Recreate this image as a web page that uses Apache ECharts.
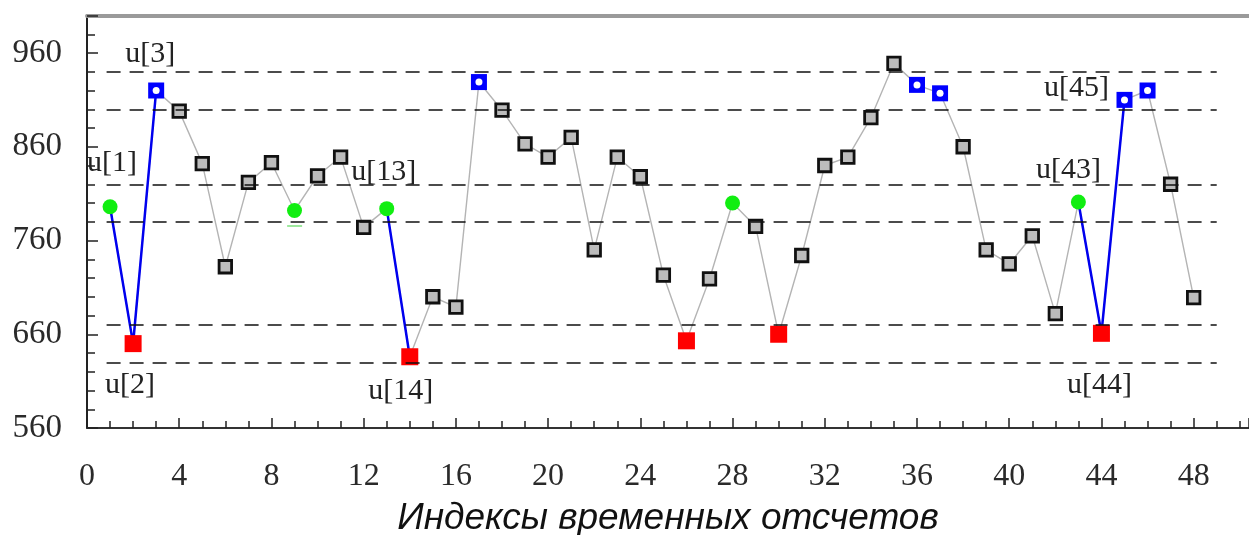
<!DOCTYPE html>
<html><head><meta charset="utf-8">
<script src="https://cdn.jsdelivr.net/npm/echarts@6/dist/echarts.min.js"></script>
<style>html,body{margin:0;padding:0;background:#fff}#c{width:1249px;height:535px}</style>
</head><body><div id="c"></div>
<script>
// ---- data ----
const indices = [1,2,3,4,5,6,7,8,9,10,11,12,13,14,15,16,17,18,19,20,21,22,23,24,25,26,27,28,29,30,31,32,33,34,35,36,37,38,39,40,41,42,43,44,45,46,47,48];
const values  = [796,650,920,898,842,732,822,843,792,829,849,774,794,636,700,689,929,899,863,849,870,750,849,828,723,653,719,800,775,660,744,840,849,891,949,926,917,860,750,735,765,682,801,661,910,920,820,699];
const minIdx = [2,14,26,30,44];
const maxIdx = [3,17,36,37,45,46];
const greenIdx = [1,9,13,28,43];
const blueSegments = [[1,3],[13,14],[43,45]];
const levels = [940,900,820,780,670,630];
const levelFrom = 0.85, levelTo = 49;
const greenDash = [[8.68, 775.5], [9.33, 775.5]];
const annotIdx  = [1,2,3,13,14,43,44,45];
const annotText = ['u[1]','u[2]','u[3]','u[13]','u[14]','u[43]','u[44]','u[45]'];
const xTitle = 'Индексы временных отсчетов';
// label placement (style only)
const annotOffset = [[2,-44],[-3,41],[-6,-36],[-3,-37],[-9,34],[-10,-32],[-2,52],[-48,-12]];

const val = i => values[indices.indexOf(i)];
const pts = list => list.map(i => [i, val(i)]);
const special = new Set([...minIdx, ...maxIdx, ...greenIdx]);
const greyIdx = indices.filter(i => !special.has(i));

const blueData = [];
blueSegments.forEach(([a,b], k) => {
  for (let i = a; i <= b; i++) blueData.push([i, val(i)]);
  if (k < blueSegments.length - 1) blueData.push([b + 0.5, null]);
});

const chart = echarts.init(document.getElementById('c'), null, {renderer:'canvas'});
const serif = 'Liberation Serif';
chart.setOption({
  animation: false,
  grid: {left: 87, right: 0, top: 15.5, bottom: 107, containLabel: false, outerBoundsMode: 'none'},
  xAxis: [{
    type: 'value', min: 0, max: 50.4, interval: 4,
    name: xTitle, nameLocation: 'middle', nameGap: 72,
    nameTextStyle: {fontFamily: 'Liberation Sans', fontStyle: 'italic', fontSize: 37, color: '#111'},
    axisLine: {show: true, onZero: false, lineStyle: {color: '#333', width: 2}},
    axisTick: {show: true, inside: true, length: 10, lineStyle: {color: '#222', width: 1.5}},
    minorTick: {show: true, splitNumber: 4, length: 7, lineStyle: {color: '#222', width: 1.5}},
    axisLabel: {fontFamily: serif, fontSize: 32, color: '#2a2a2a', margin: 33, showMaxLabel: false},
    splitLine: {show: false}
  }, {
    type: 'value', min: 0, max: 50.4, position: 'top',
    axisLine: {show: true, onZero: false, lineStyle: {color: '#9a9a9a', width: 4}},
    axisTick: {show: false}, axisLabel: {show: false}, splitLine: {show: false}
  }],
  yAxis: {
    type: 'value', min: 560, max: 1000, interval: 100,
    axisLine: {show: true, onZero: false, lineStyle: {color: '#222', width: 2}},
    axisTick: {show: true, inside: true, length: 11, lineStyle: {color: '#222', width: 1.5}},
    minorTick: {show: true, splitNumber: 5, length: 8, lineStyle: {color: '#222', width: 1.5}},
    axisLabel: {fontFamily: serif, fontSize: 33, color: '#2a2a2a', margin: 25, showMaxLabel: false},
    splitLine: {show: false}
  },
  series: [
    {
      type: 'line', data: indices.map(i => [i, val(i)]), showSymbol: false, symbol: 'none',
      lineStyle: {color: '#b4b4b4', width: 1.4}, z: 2, silent: true,
      markLine: {
        silent: true, symbol: ['none','none'], label: {show: false},
        lineStyle: {color: '#111', width: 1.6, type: [14, 9]},
        data: levels.map(v => [{coord: [levelFrom, v]}, {coord: [levelTo, v]}])
      }
    },
    {
      type: 'line', data: blueData, connectNulls: false, showSymbol: false, symbol: 'none',
      lineStyle: {color: '#0000ee', width: 2.5}, z: 3, silent: true
    },
    {
      type: 'scatter', data: pts(greyIdx), symbol: 'rect', symbolSize: 12.5, z: 4,
      itemStyle: {color: '#bcbcbc', borderColor: '#111', borderWidth: 2.8, opacity: 1}
    },
    {
      type: 'scatter', data: pts(minIdx), symbol: 'rect', symbolSize: 17, z: 4,
      itemStyle: {color: '#ff0000', opacity: 1}
    },
    {
      type: 'scatter', data: pts(maxIdx), symbol: 'rect', symbolSize: 16, z: 4,
      itemStyle: {color: '#0000ff', opacity: 1}
    },
    {
      type: 'scatter', data: pts(maxIdx), symbol: 'circle', symbolSize: 7, z: 5,
      itemStyle: {color: '#ffffff', opacity: 1}
    },
    {
      type: 'scatter', data: pts(greenIdx), symbol: 'circle', symbolSize: 15, z: 4,
      itemStyle: {color: '#11ee11', opacity: 1},
      markLine: {
        silent: true, symbol: ['none','none'], label: {show: false},
        lineStyle: {color: '#7ee07e', width: 1.5, type: 'solid'},
        data: [[{coord: greenDash[0]}, {coord: greenDash[1]}]]
      }
    },
    {
      type: 'scatter', symbolSize: 2, z: 6, silent: true,
      itemStyle: {color: 'rgba(0,0,0,0)', opacity: 1},
      data: annotIdx.map((i, k) => ({
        value: [i, val(i)],
        label: {show: true, formatter: annotText[k], position: 'inside', offset: annotOffset[k],
                fontFamily: serif, fontSize: 30, color: '#222', opacity: 1}
      }))
    }
  ]
});
</script></body></html>
